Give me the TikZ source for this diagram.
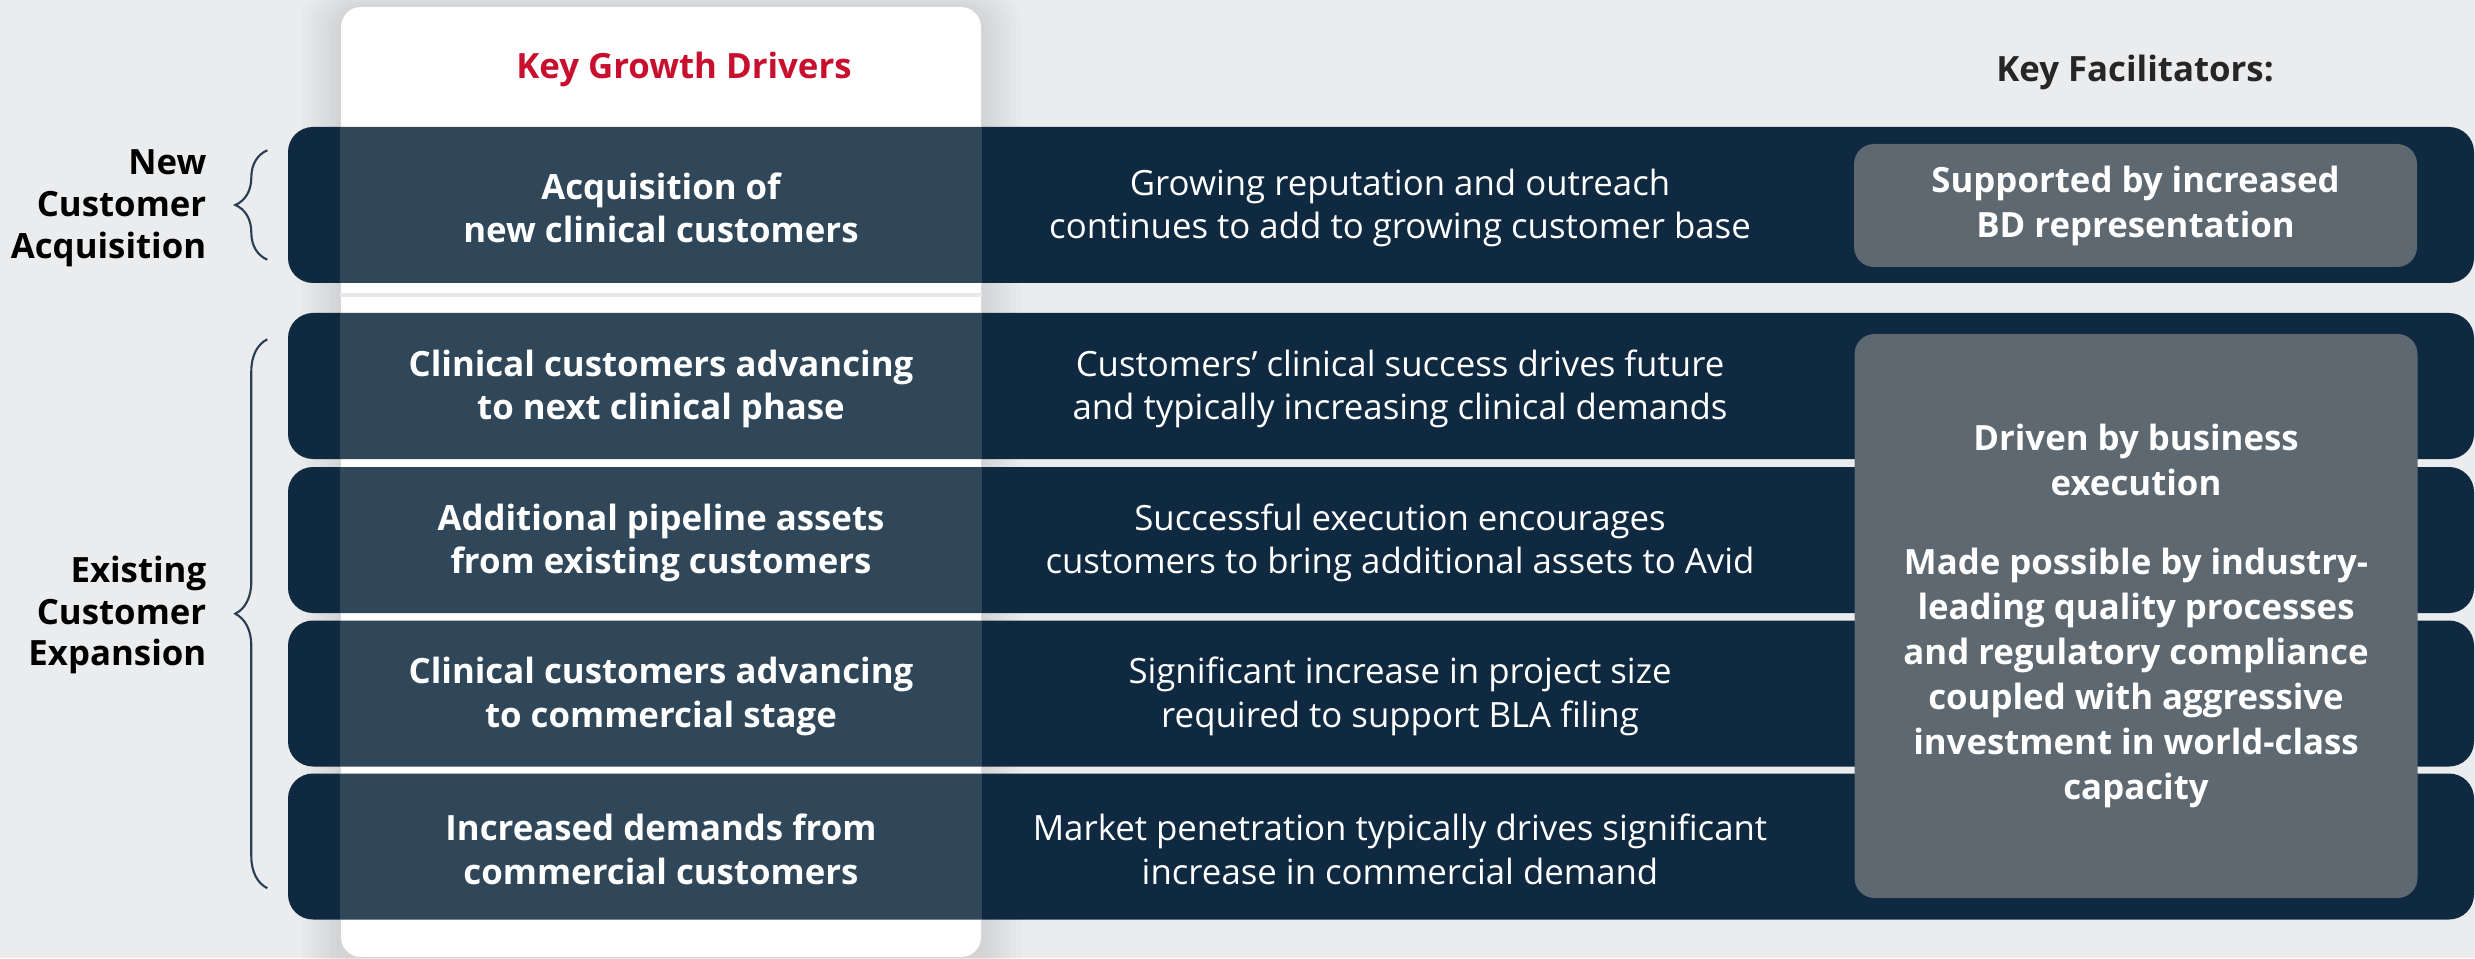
\documentclass[tikz,border=0pt]{standalone}
\usepackage{fontspec}
\setmainfont{Open Sans}
\usetikzlibrary{decorations.pathreplacing,calc}

\definecolor{pagebg}{RGB}{235,236,238}
\definecolor{navy}{RGB}{14,41,64}
\definecolor{slatebox}{RGB}{93,104,113}
\definecolor{keyred}{RGB}{200,16,46}
\definecolor{bracecol}{RGB}{40,62,82}
\definecolor{headgray}{RGB}{38,38,38}
\definecolor{sepgray}{RGB}{230,232,235}

\begin{document}
\begin{tikzpicture}[
    every node/.style={font=\fontsize{9.9}{12.4}\selectfont, align=center, inner sep=0pt},
    band/.style={fill=navy, rounded corners=0.25cm, minimum width=21.86cm},
    drvtext/.style={text=white, yshift=-0.03cm, font=\fontsize{9.9}{12.4}\selectfont\bfseries},
    midtext/.style={text=white, yshift=-0.03cm},
    facbox/.style={fill=slatebox, rounded corners=0.2cm, minimum width=5.63cm, text=white, font=\fontsize{9.9}{12.8}\selectfont\bfseries},
    headtext/.style={font=\fontsize{9.9}{12.4}\selectfont\bfseries},
    grouplabel/.style={align=right, anchor=east, text=black, font=\fontsize{9.9}{11.9}\selectfont\bfseries},
    grpbrace/.style={draw=bracecol, line width=0.6pt, decorate, decoration={brace, amplitude=0.32cm}},
  ]
    \useasboundingbox (0,0) rectangle (24.75,9.58);
    \clip (0,0) rectangle (24.75,9.58);
    \fill[pagebg] (0,0) rectangle (24.75,9.58);

    % white column with soft shadow
    \foreach \s in {1,...,8}
        \fill[black, opacity=0.012, rounded corners=0.3cm] (3.41-\s*0.05,-0.5) rectangle (9.81+\s*0.05,9.51+\s*0.02);
    \node[fill=white, rounded corners=0.2cm, minimum width=6.4cm, minimum height=9.5cm] (col) at (6.61,4.76) {};
    \coordinate (sepy) at (0,6.63);
    \draw[sepgray, line width=1.1pt] (col.west |- sepy) -- (col.east |- sepy);

    \node[headtext, text=keyred] (kgd) at (6.84,8.89) {Key Growth Drivers};
    \node[headtext, text=headgray] (kf) at (21.35,8.86) {Key Facilitators:};

    % bands
    \node[band, minimum height=1.56cm] (r1) at (13.81,7.53) {};
    \node[band, minimum height=1.46cm] (r2) at (13.81,5.72) {};
    \node[band, minimum height=1.46cm] (r3) at (13.81,4.18) {};
    \node[band, minimum height=1.46cm] (r4) at (13.81,2.645) {};
    \node[band, minimum height=1.46cm] (r5) at (13.81,1.115) {};
    \foreach \r in {1,...,5}
        \fill[white, opacity=0.14] (col.west |- r\r.south) rectangle (col.east |- r\r.north);

    \node[drvtext] (d1) at (6.61,7.53) {Acquisition of\\new clinical customers};
    \node[drvtext] (d2) at (6.61,5.72) {Clinical customers advancing\\to next clinical phase};
    \node[drvtext] (d3) at (6.61,4.18) {Additional pipeline assets\\from existing customers};
    \node[drvtext] (d4) at (6.61,2.645) {Clinical customers advancing\\to commercial stage};
    \node[drvtext] (d5) at (6.61,1.115) {Increased demands from\\commercial customers};

    \node[midtext] (m1) at (14.0,7.53) {Growing reputation and outreach\\continues to add to growing customer base};
    \node[midtext] (m2) at (14.0,5.72) {Customers’ clinical success drives future\\and typically increasing clinical demands};
    \node[midtext] (m3) at (14.0,4.18) {Successful execution encourages\\customers to bring additional assets to Avid};
    \node[midtext] (m4) at (14.0,2.645) {Significant increase in project size\\required to support BLA filing};
    \node[midtext] (m5) at (14.0,1.115) {Market penetration typically drives significant\\increase in commercial demand};

    \node[facbox, minimum height=1.23cm] (f1) at (21.355,7.525) {Supported by increased\\BD representation};
    \node[facbox, minimum height=5.64cm] (f2) at (21.36,3.42) {Driven by business\\execution\\[0.34cm]Made possible by industry-\\leading quality processes\\and regulatory compliance\\coupled with aggressive\\investment in world-class\\capacity};

    % groups
    \node[grouplabel] (gnew) at (2.07,7.50) {New\\Customer\\Acquisition};
    \node[grouplabel] (gexist) at (2.07,3.43) {Existing\\Customer\\Expansion};
    \draw[grpbrace] ($(r1.south west)+(-0.2,0.24)$) -- ($(r1.north west)+(-0.2,-0.24)$);
    \draw[grpbrace] ($(r5.south west)+(-0.2,0.32)$) -- ($(r2.north west)+(-0.2,-0.27)$);
\end{tikzpicture}
\end{document}
